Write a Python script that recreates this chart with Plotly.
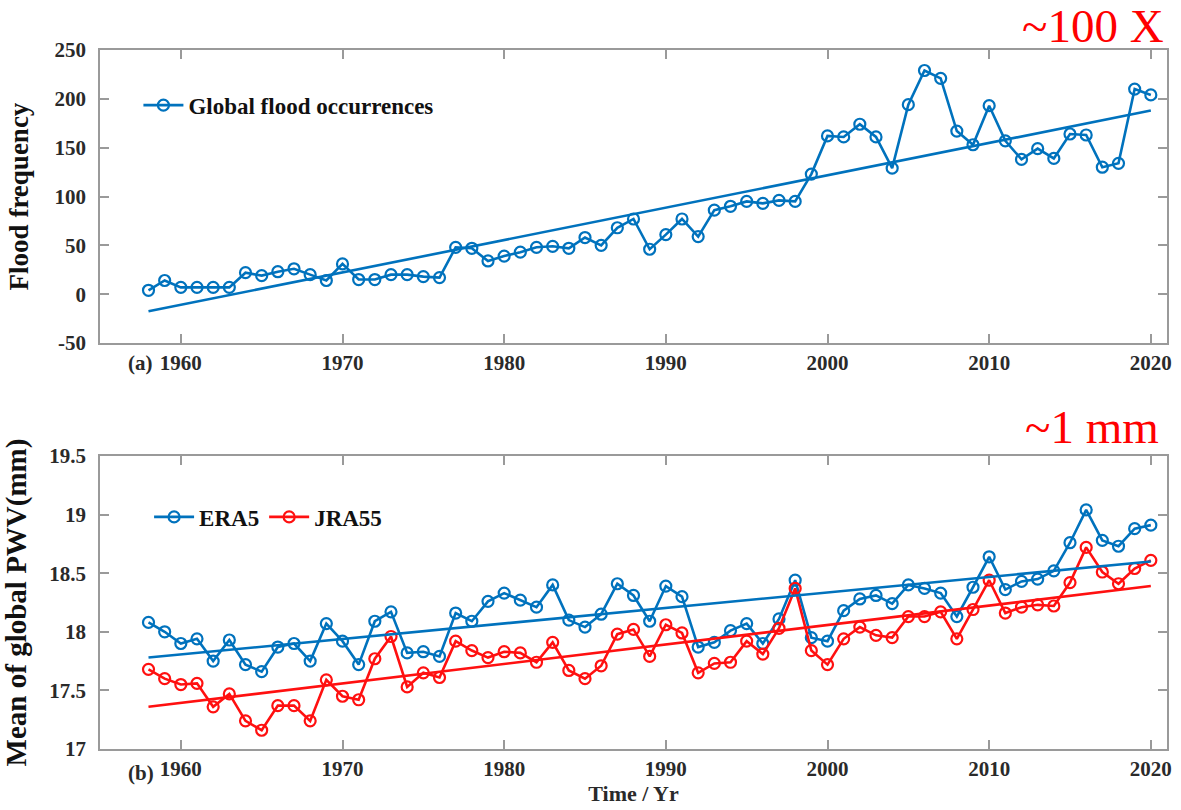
import plotly.graph_objects as go

# ---------------- data ----------------
years = list(range(1958, 2021))

flood = [4, 14, 7, 7, 7, 7, 22, 19, 23, 26,
         20, 14, 31, 15, 15, 20, 20, 18, 17, 48,
         47, 34, 39, 43, 48, 49, 47, 58, 50, 68,
         77, 46, 61, 77, 59, 86, 90, 95, 93, 96,
         95, 123, 162, 161, 174, 161, 129, 194, 229, 221,
         167, 153, 193, 157, 138, 149, 139, 164, 163, 130,
         134, 210, 204]

era5 = [18.08, 18.00, 17.90, 17.94, 17.75, 17.93, 17.72, 17.66, 17.87, 17.90,
        17.75, 18.07, 17.92, 17.72, 18.09, 18.17, 17.82, 17.83, 17.79, 18.16,
        18.09, 18.26, 18.33, 18.27, 18.21, 18.40, 18.10, 18.04, 18.15, 18.41,
        18.31, 18.09, 18.39, 18.30, 17.87, 17.91, 18.01, 18.07, 17.90, 18.11,
        18.44, 17.95, 17.92, 18.18, 18.28, 18.31, 18.24, 18.40, 18.37, 18.33,
        18.13, 18.38, 18.64, 18.36, 18.43, 18.45, 18.52, 18.76, 19.04, 18.78,
        18.73, 18.88, 18.91]

jra55 = [17.68, 17.60, 17.55, 17.56, 17.36, 17.47, 17.24, 17.16, 17.37, 17.37,
         17.24, 17.59, 17.45, 17.42, 17.77, 17.96, 17.53, 17.65, 17.61, 17.92,
         17.84, 17.78, 17.83, 17.82, 17.74, 17.91, 17.67, 17.60, 17.71, 17.98,
         18.02, 17.79, 18.06, 17.99, 17.65, 17.73, 17.74, 17.92, 17.81, 18.03,
         18.37, 17.84, 17.72, 17.94, 18.04, 17.97, 17.95, 18.13, 18.13, 18.17,
         17.94, 18.19, 18.44, 18.16, 18.21, 18.23, 18.22, 18.42, 18.72, 18.51,
         18.41, 18.54, 18.61]

trend_years = [1958, 2020]
flood_trend = [-17.5, 188]
era5_trend = [17.78, 18.60]
jra55_trend = [17.36, 18.39]

x_tickvals = [1960, 1970, 1980, 1990, 2000, 2010, 2020]
x_ticktext = ["1960", "1970", "1980", "1990", "2000", "2010", "2020"]
y1_tickvals = [-50, 0, 50, 100, 150, 200, 250]
y1_ticktext = ["-50", "0", "50", "100", "150", "200", "250"]
y2_tickvals = [17, 17.5, 18, 18.5, 19, 19.5]
y2_ticktext = ["17", "17.5", "18", "18.5", "19", "19.5"]

# ---------------- style ----------------
BLUE = "#0072BD"
RED = "#FF1010"
FONT = "Liberation Serif"
AXC = "#9a9a9a"
TXT = "#2a2a2a"

fig = go.Figure()

marker_style = dict(symbol="circle-open", size=11, line=dict(width=2.2))

fig.add_trace(go.Scatter(x=years, y=flood, mode="lines+markers", name="Global flood occurrences",
                         line=dict(color=BLUE, width=2.6), marker=dict(color=BLUE, **marker_style),
                         xaxis="x", yaxis="y", legend="legend"))
fig.add_trace(go.Scatter(x=trend_years, y=flood_trend, mode="lines", showlegend=False,
                         line=dict(color=BLUE, width=2.6), xaxis="x", yaxis="y"))

fig.add_trace(go.Scatter(x=years, y=era5, mode="lines+markers", name="ERA5",
                         line=dict(color=BLUE, width=2.6), marker=dict(color=BLUE, **marker_style),
                         xaxis="x2", yaxis="y2", legend="legend2"))
fig.add_trace(go.Scatter(x=years, y=jra55, mode="lines+markers", name="JRA55",
                         line=dict(color=RED, width=2.6), marker=dict(color=RED, **marker_style),
                         xaxis="x2", yaxis="y2", legend="legend2"))
fig.add_trace(go.Scatter(x=trend_years, y=era5_trend, mode="lines", showlegend=False,
                         line=dict(color=BLUE, width=2.6), xaxis="x2", yaxis="y2"))
fig.add_trace(go.Scatter(x=trend_years, y=jra55_trend, mode="lines", showlegend=False,
                         line=dict(color=RED, width=2.6), xaxis="x2", yaxis="y2"))

tickfont = dict(family=FONT, size=21, color=TXT, weight="bold")
common_x = dict(range=[1955, 2021], tickvals=x_tickvals, ticktext=x_ticktext,
                showline=True, linecolor=AXC, linewidth=1.5, mirror="ticks",
                ticks="inside", ticklen=9, tickcolor=AXC, tickwidth=1.5,
                showgrid=False, zeroline=False, tickfont=tickfont, ticklabelstandoff=0)
common_y = dict(showline=True, linecolor=AXC, linewidth=1.5, mirror="ticks",
                ticks="inside", ticklen=9, tickcolor=AXC, tickwidth=1.5,
                showgrid=False, zeroline=False, tickfont=tickfont, ticklabelstandoff=8)

fig.update_layout(
    width=1181, height=810,
    paper_bgcolor="white", plot_bgcolor="white",
    margin=dict(l=100, r=9, t=50, b=61),
    xaxis=dict(domain=[0, 1], anchor="y", **common_x),
    yaxis=dict(domain=[0.5808, 1], anchor="x", range=[-50, 250],
               tickvals=y1_tickvals, ticktext=y1_ticktext,
               title=dict(text="Flood frequency", standoff=18,
                          font=dict(family=FONT, size=27, color="#111", weight="bold")),
               **common_y),
    xaxis2=dict(domain=[0, 1], anchor="y2",
                title=dict(text="Time / Yr", standoff=2,
                           font=dict(family=FONT, size=22, color=TXT, weight="bold")),
                **common_x),
    yaxis2=dict(domain=[0, 0.4192], anchor="x2", range=[17, 19.5],
                tickvals=y2_tickvals, ticktext=y2_ticktext,
                title=dict(text="Mean of global PWV(mm)", standoff=16,
                           font=dict(family=FONT, size=29, color="#111", weight="bold")),
                **common_y),
    legend=dict(x=0.036, y=0.921, xanchor="left", yanchor="middle", bgcolor="rgba(0,0,0,0)",
                font=dict(family=FONT, size=23, color="#111", weight="bold"), itemwidth=40),
    legend2=dict(x=0.046, y=0.332, xanchor="left", yanchor="middle", orientation="h",
                 bgcolor="rgba(0,0,0,0)", tracegroupgap=0,
                 font=dict(family=FONT, size=23, color="#111", weight="bold"), itemwidth=40),
    showlegend=True,
)

annots = [
    dict(text="(a)", x=0.038, y=0.552, xref="paper", yref="paper", showarrow=False,
         xanchor="center", yanchor="middle", font=dict(family=FONT, size=21, color=TXT, weight="bold")),
    dict(text="(b)", x=0.038, y=-0.034, xref="paper", yref="paper", showarrow=False,
         xanchor="center", yanchor="middle", font=dict(family=FONT, size=21, color=TXT, weight="bold")),
    dict(text="~100 X", x=0.999, y=1.035, xref="paper", yref="paper", showarrow=False,
         xanchor="right", yanchor="middle", font=dict(family=FONT, size=47, color="#FF0000")),
    dict(text="~1 mm", x=0.994, y=0.461, xref="paper", yref="paper", showarrow=False,
         xanchor="right", yanchor="middle", font=dict(family=FONT, size=47, color="#FF0000")),
]
fig.update_layout(annotations=annots)

fig.write_html("out.html", config={"displayModeBar": False},
               post_script="document.body.style.margin='0';document.body.style.overflow='hidden';")
